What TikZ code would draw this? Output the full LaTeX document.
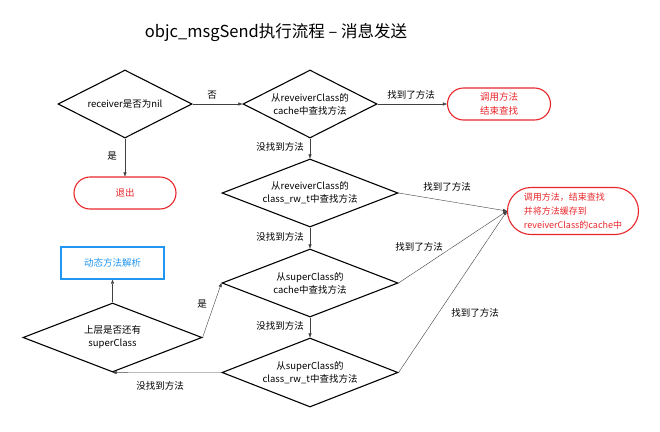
\documentclass[tikz,border=0pt]{standalone}
\usepackage{fontspec}
\setmainfont{Noto Sans CJK SC}
\usepackage{xcolor}
\usepackage{tikz}
\usetikzlibrary{shapes, arrows.meta, positioning, calc}
\definecolor{StopRed}{HTML}{E8262A}
\definecolor{ResolveBlue}{HTML}{2196F3}

\begin{document}
\begin{tikzpicture}[
  x=1pt, y=-1pt,
  decisiontext/.style={align=center, inner sep=0pt, font=\fontsize{9.5}{13}\selectfont},
  decision/.style={diamond, draw, line width=1.1pt, inner sep=0pt, label={[decisiontext]center:{#1}}},
  stopbox/.style={rounded rectangle, draw=StopRed, line width=1.1pt, text=StopRed, inner sep=0pt, font=\fontsize{9.5}{14}\selectfont},
  arrowstyle/.style={-{Triangle[length=4pt, width=3pt]}, line width=0.4pt, black!75},
  edgelabel/.style={font=\fontsize{9.5}{10}\selectfont, inner sep=1pt}
  ]
  \useasboundingbox (0,0) rectangle (660,431);
  % Title
  \node[font=\fontsize{16.5}{18}\selectfont] (title) at (276, 33) {objc\_msgSend执行流程 – 消息发送};
  % receiver check
  \node[decision={receiver是否为nil}, minimum width=134pt, minimum height=68pt] (nil) at (125, 104) {};
  \node[stopbox, minimum width=102pt, minimum height=32pt] (quit) at (125, 193) {退出};
  % cache of receiver class
  \node[decision={从reveiverClass的\\cache中查找方法}, minimum width=134pt, minimum height=68pt] (cache1) at (310, 104) {};
  \node[stopbox, minimum width=103pt, minimum height=32pt, align=center] (call1) at (499, 104) {调用方法\\结束查找};
  % method list of receiver class
  \node[decision={从reveiverClass的\\class\_rw\_t中查找方法}, minimum width=176pt, minimum height=68pt] (rw1) at (310, 193) {};
  % superclass cache
  \node[decision={从superClass的\\cache中查找方法}, minimum width=176pt, minimum height=68pt] (super1) at (310, 283) {};
  % superclass method list
  \node[decision={从superClass的\\class\_rw\_t中查找方法}, minimum width=176pt, minimum height=69pt] (rw2) at (310, 372.5) {};
  % more superclasses?
  \node[decision={上层是否还有\\superClass}, minimum width=179pt, minimum height=69pt] (hassuper) at (112.5, 337.5) {};
  \node[draw=ResolveBlue, line width=1.3pt, text=ResolveBlue, minimum width=103pt, minimum height=32pt, font=\fontsize{9.5}{10}\selectfont] (resolve) at (112.5, 263) {动态方法解析};
  % Found and cached
  \node[stopbox, minimum width=131pt, minimum height=47pt, align=left, font=\fontsize{9}{14}\selectfont] (call2) at (573, 211) {调用方法，结束查找\\并将方法缓存到\\reveiverClass的cache中};
  % Arrows
  \draw[arrowstyle] (nil.east) -- (cache1.west);
  \draw[arrowstyle] (nil.south) -- (quit.north);
  \draw[arrowstyle] (cache1.east) -- (call1.west);
  \draw[arrowstyle] (cache1.south) -- (rw1.north);
  \draw[arrowstyle] (rw1.south) -- (super1.north);
  \draw[arrowstyle] (super1.south) -- (rw2.north);
  \draw[arrowstyle] (rw1.east) -- (call2.west);
  \draw[arrowstyle] (super1.east) -- (call2.west);
  \draw[arrowstyle] (rw2.east) -- (call2.west);
  \draw[arrowstyle] (hassuper.east) -- (super1.west);
  \draw[arrowstyle] (rw2.west) -- (hassuper.south);
  \draw[arrowstyle] (hassuper.north) -- (resolve.south);
  % Labels
  \node[edgelabel] (no1) at (212, 95) {否};
  \node[edgelabel] (yes1) at (112, 156) {是};
  \node[edgelabel] (found1) at (411, 95) {找到了方法};
  \node[edgelabel] (miss1) at (280, 147) {没找到方法};
  \node[edgelabel] (found2) at (447, 187) {找到了方法};
  \node[edgelabel] (miss2) at (280, 237) {没找到方法};
  \node[edgelabel] (found3) at (419, 247) {找到了方法};
  \node[edgelabel] (miss3) at (280, 326) {没找到方法};
  \node[edgelabel] (found4) at (475, 313) {找到了方法};
  \node[edgelabel] (yes2) at (202, 304) {是};
  \node[edgelabel] (miss4) at (160, 386) {没找到方法};
\end{tikzpicture}
\end{document}
